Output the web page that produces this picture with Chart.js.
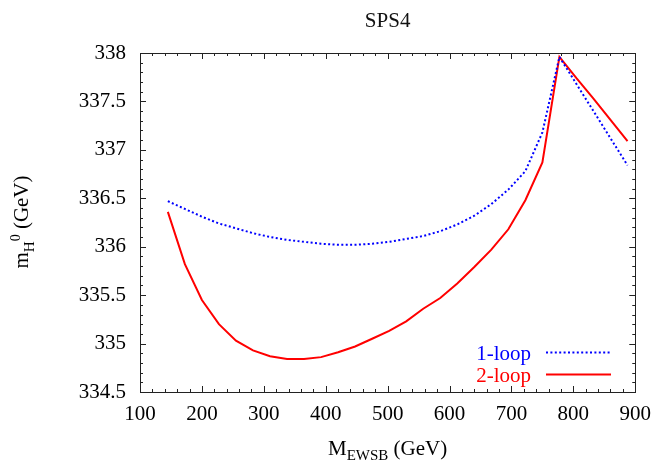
<!DOCTYPE html>
<html>
<head>
<meta charset="utf-8">
<script src="https://cdn.jsdelivr.net/npm/chart.js@4/dist/chart.umd.min.js"></script>
<style>
  body { margin: 0; background: #fff; }
</style>
</head>
<body>
<canvas id="myChart" width="661" height="466"></canvas>
<script>
// M_EWSB sampling (GeV)
const mEwsb = [145, 172.5, 200, 227.5, 255, 282.5, 310, 337.5, 365, 392.5, 420, 447.5, 475, 502.5,
               530, 557.5, 585, 612.5, 640, 667.5, 695, 722.5, 750, 777.5, 805, 832.5, 860, 887.5];
// m_H0 at 1-loop and 2-loop (GeV)
const oneLoop = [336.47, 336.39, 336.31, 336.24, 336.19, 336.14, 336.10, 336.07, 336.05, 336.03,
                 336.02, 336.02, 336.03, 336.05, 336.08, 336.11, 336.16, 336.23, 336.32, 336.44,
                 336.59, 336.78, 337.18, 337.96, 337.68, 337.40, 337.12, 336.84];
const twoLoop = [336.36, 335.82, 335.45, 335.20, 335.03, 334.93, 334.87, 334.84, 334.84, 334.86,
                 334.91, 334.97, 335.05, 335.13, 335.23, 335.36, 335.47, 335.62, 335.79, 335.97,
                 336.18, 336.48, 336.87, 337.96, 337.74, 337.53, 337.31, 337.09];
const seriesNames = ['1-loop', '2-loop'];
const seriesColors = ['#0000ff', '#ff0000'];
const chartTitle = 'SPS4';

const serif = "'Liberation Serif', 'DejaVu Serif', serif";

const toPoints = (ys) => mEwsb.map((m, i) => ({x: m, y: ys[i]}));

// ticks pointing inward on all four sides, plus frame, titles and legend
const decorations = {
    id: 'decorations',
    afterDraw(chart) {
        const {ctx, chartArea: a, scales: {x, y}} = chart;
        ctx.save();
        ctx.strokeStyle = '#222';
        ctx.lineWidth = 1;
        const seg = (x1, y1, x2, y2) => {
            ctx.beginPath(); ctx.moveTo(x1, y1); ctx.lineTo(x2, y2); ctx.stroke();
        };
        for (let i = 0; i <= 40; i++) {
            const v = 100 + i * 20;
            const px = Math.round(x.getPixelForValue(v)) + 0.5;
            const len = i % 5 === 0 ? 6 : 3;
            seg(px, a.bottom, px, a.bottom - len);
            seg(px, a.top, px, a.top + len);
        }
        for (let i = 0; i <= 35; i++) {
            const v = 334.5 + i * 0.1;
            const py = Math.round(y.getPixelForValue(v)) + 0.5;
            const len = i % 5 === 0 ? 6 : 3;
            seg(a.left, py, a.left + len, py);
            seg(a.right, py, a.right - len, py);
        }
        ctx.strokeRect(Math.round(a.left) + 0.5, Math.round(a.top) + 0.5,
                       Math.round(a.width), Math.round(a.height));

        const big = '21px ' + serif, small = '15px ' + serif;

        // title over the plot area
        ctx.fillStyle = '#111';
        ctx.font = big;
        ctx.textAlign = 'center';
        ctx.textBaseline = 'alphabetic';
        ctx.fillText(chartTitle, (a.left + a.right) / 2, 27);

        // x axis title: M_EWSB (GeV)
        ctx.fillStyle = '#000';
        ctx.textAlign = 'left';
        ctx.font = big; const w1 = ctx.measureText('M').width, w3 = ctx.measureText(' (GeV)').width;
        ctx.font = small; const w2 = ctx.measureText('EWSB').width;
        let sx = (a.left + a.right) / 2 - (w1 + w2 + w3) / 2;
        const by = 455;
        ctx.font = big; ctx.fillText('M', sx, by); sx += w1;
        ctx.font = small; ctx.fillText('EWSB', sx, by + 5); sx += w2;
        ctx.font = big; ctx.fillText(' (GeV)', sx, by);

        // y axis title: m_{H^0} (GeV)
        ctx.save();
        ctx.translate(28, 222);
        ctx.rotate(-Math.PI / 2);
        ctx.font = big; const u1 = ctx.measureText('m').width, u4 = ctx.measureText(' (GeV)').width;
        ctx.font = small; const u2 = ctx.measureText('H').width;
        ctx.font = '14px ' + serif; const u3 = ctx.measureText('0').width;
        let tx = -(u1 + u2 + u3 + u4) / 2;
        ctx.font = big; ctx.fillText('m', tx, 0); tx += u1;
        ctx.font = small; ctx.fillText('H', tx, 6); tx += u2;
        ctx.font = '14px ' + serif; ctx.fillText('0', tx, -8); tx += u3;
        ctx.font = big; ctx.fillText(' (GeV)', tx, 0);
        ctx.restore();

        // legend
        ctx.font = big;
        ctx.textAlign = 'right';
        const rows = [{ty: 360, ly: 352.5, dash: [2, 2.4]}, {ty: 382, ly: 374.5, dash: []}];
        rows.forEach((r, i) => {
            ctx.fillStyle = seriesColors[i];
            ctx.fillText(seriesNames[i], 531, r.ty);
            ctx.strokeStyle = seriesColors[i];
            ctx.lineWidth = 2;
            ctx.setLineDash(r.dash);
            seg(546, r.ly, 611, r.ly);
        });
        ctx.restore();
    }
};

const ctx = document.getElementById('myChart').getContext('2d');
const myChart = new Chart(ctx, {
    type: 'line',
    data: {
        datasets: [{
            label: seriesNames[0],
            data: toPoints(oneLoop),
            borderColor: seriesColors[0],
            borderWidth: 2,
            borderDash: [2, 2.4],
            pointRadius: 0,
            tension: 0,
            fill: false
        }, {
            label: seriesNames[1],
            data: toPoints(twoLoop),
            borderColor: seriesColors[1],
            borderWidth: 2,
            pointRadius: 0,
            tension: 0,
            fill: false
        }]
    },
    options: {
        responsive: false,
        animation: false,
        layout: { padding: { left: 0, right: 22, top: 53, bottom: 0 } },
        plugins: {
            legend: { display: false },
            tooltip: { enabled: false },
            title: { display: false }
        },
        scales: {
            x: {
                type: 'linear',
                min: 100,
                max: 900,
                afterFit: (s) => { s.height = 74; },
                grid: { display: false, drawTicks: false },
                border: { display: false },
                ticks: {
                    stepSize: 100,
                    padding: 10,
                    color: '#000',
                    font: { family: serif, size: 21 },
                    callback: (v) => String(v)
                }
            },
            y: {
                type: 'linear',
                min: 334.5,
                max: 338,
                afterFit: (s) => { s.width = 140; },
                grid: { display: false, drawTicks: false },
                border: { display: false },
                ticks: {
                    stepSize: 0.5,
                    padding: 14,
                    color: '#000',
                    font: { family: serif, size: 21 },
                    callback: (v) => String(+v.toFixed(1))
                }
            }
        }
    },
    plugins: [decorations]
});
</script>
</body>
</html>
